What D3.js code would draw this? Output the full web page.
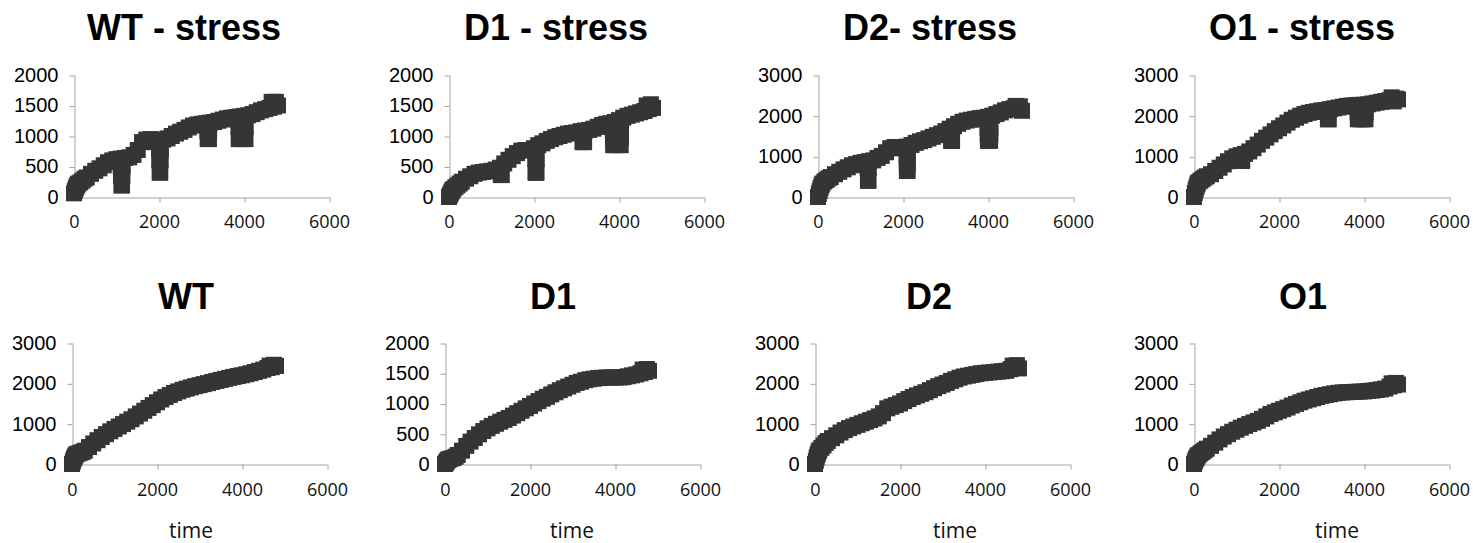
<!DOCTYPE html>
<html><head><meta charset="utf-8">
<script src="https://cdn.jsdelivr.net/npm/d3@7/dist/d3.min.js"></script>
<style>body{margin:0;background:#fff}svg{display:block}</style>
</head><body><svg id="chart" width="1473" height="543"></svg>
<script>
// ---------- data ----------
const xTickValues = [0, 2000, 4000, 6000];
const yTicks2000 = [0, 500, 1000, 1500, 2000];
const yTicks3000 = [0, 1000, 2000, 3000];
const panelTitles = ["WT - stress", "D1 - stress", "D2- stress", "O1 - stress", "WT", "D1", "D2", "O1"];
const xAxisLabel = "time";

// shared sampling times
const baseTime = [0,20,40,60,80,100,150,200,250,300,400,500,600,700,800,900,1000,1100,1200,1300,
  1400,1500,1600,1700,1800,1900,2000,2100,2200,2300,2400,2500,2600,2700,2800,2900,3000,3100,3200,
  3300,3400,3500,3600,3700,3800,3900,4000,4100,4200,4300,4400,4500,4600,4650,4700,4750,4800];

// stress panels (top row): main trace + stress-pulse dips
const wtStressValue = [60,100,140,170,200,220,240,270,300,320,380,430,470,520,570,600,620,630,640,650,
  690,770,900,940,950,900,920,940,960,1000,1040,1070,1100,1140,1170,1190,1200,1210,1220,
  1230,1250,1270,1290,1300,1310,1320,1330,1340,1360,1390,1420,1440,1460,1560,1480,1560,1500];
const wtStressDipTime  = [1100,1105,1115,1130,1140,1145, 2000,2005,2015,2030,2040,2045,
  3140,3145,3160,3175,3180, 3870,3875,3900,3950,4000,4035,4040];
const wtStressDipValue = [510,350,190,190,350,510, 780,600,400,400,600,780,
  1080,950,950,950,1080, 1150,950,950,950,950,950,1150];

const d1StressValue = [0,30,60,90,110,130,160,190,220,250,300,340,380,400,410,420,430,450,480,550,
  610,670,720,760,770,770,800,850,880,920,950,980,1000,1020,1040,1050,1060,1080,1090,
  1100,1120,1150,1180,1200,1210,1230,1260,1300,1330,1350,1370,1390,1410,1500,1440,1520,1460];
const d1StressDipTime  = [1220,1230,1240, 2030,2035,2045,2060,2065, 3140,3160,3180,
  3855,3858,3862,3950,4040,4045,4048];
const d1StressDipValue = [360,360,360, 620,400,400,400,620, 900,900,900,
  1100,970,850,850,850,970,1100];

const d2StressValue = [0,80,150,220,280,330,380,420,460,490,560,620,680,730,780,810,840,860,880,900,
  960,1010,1100,1200,1230,1200,1220,1240,1280,1330,1370,1400,1440,1480,1520,1560,1620,1680,1740,
  1800,1850,1880,1900,1920,1940,1950,1970,2000,2040,2080,2130,2160,2180,2240,2160,2230,2120];
const d2StressDipTime  = [1170,1175,1190,1195, 2085,2088,2092,2100,2108,2112,2115,
  3135,3140,3150,3155, 3990,3993,3997,4024,4050,4055,4058];
const d2StressDipValue = [700,400,400,700, 1000,820,644,644,644,820,1000,
  1382,1382,1382,1382, 1700,1540,1382,1382,1382,1540,1700];

const o1StressValue = [0,100,180,250,310,360,400,440,480,510,560,640,720,800,880,950,1000,1030,1060,1120,
  1200,1290,1380,1460,1540,1620,1690,1760,1830,1900,1950,2000,2040,2070,2090,2110,2130,2140,2160,
  2180,2200,2220,2240,2250,2260,2265,2270,2280,2300,2320,2340,2360,2380,2450,2350,2420,2400];
const o1StressDipTime  = [1110,1122,1135, 3150,3160,3170, 3850,3855,3900,3950,4000,4035,4040];
const o1StressDipValue = [890,890,890, 1913,1913,1913, 2080,1913,1913,1913,1913,1913,2080];

// control panels (bottom row)
const wtValue = [0,60,120,170,210,240,260,280,300,330,420,510,590,670,740,810,870,930,990,1050,
  1110,1180,1250,1320,1390,1460,1530,1600,1660,1710,1760,1800,1840,1870,1900,1930,1955,1980,2005,
  2035,2060,2085,2110,2135,2160,2180,2200,2225,2250,2280,2310,2340,2380,2440,2400,2460,2430];
const d1Value = [0,20,40,60,70,80,90,100,120,150,220,300,370,430,490,545,590,630,665,700,
  730,760,800,840,880,920,960,1000,1040,1080,1110,1150,1185,1220,1250,1280,1310,1340,1360,
  1385,1400,1410,1420,1425,1430,1430,1430,1430,1435,1450,1465,1480,1500,1560,1520,1570,1540];
const d2Value = [0,80,160,230,290,340,400,460,520,570,640,710,780,840,890,930,970,1010,1050,1090,
  1130,1180,1260,1380,1420,1460,1500,1560,1610,1660,1700,1740,1780,1830,1880,1930,1970,2010,2060,
  2100,2140,2170,2190,2210,2230,2250,2260,2270,2280,2290,2300,2310,2350,2440,2380,2450,2370];
const o1Value = [0,60,110,150,190,220,260,300,340,380,450,530,610,680,740,800,850,900,945,990,
  1030,1070,1120,1180,1240,1280,1320,1360,1400,1450,1490,1530,1570,1600,1630,1660,1690,1710,1730,
  1750,1765,1775,1780,1785,1790,1795,1800,1810,1820,1835,1850,1870,1920,2000,1950,2010,1970];

// ---------- layout ----------
const rows = [
  {top: 75, bottom: 197, titleY: 40, tickPad: 13},
  {top: 343, bottom: 464, titleY: 309, tickPad: 14}
];
const plotWidth = 255;
const panels = [
  {value: wtStressValue, dipTime: wtStressDipTime, dipValue: wtStressDipValue, yMax: 2000, yTicks: yTicks2000, row: 0, left: 74,   titleX: 184},
  {value: d1StressValue, dipTime: d1StressDipTime, dipValue: d1StressDipValue, yMax: 2000, yTicks: yTicks2000, row: 0, left: 449,  titleX: 556},
  {value: d2StressValue, dipTime: d2StressDipTime, dipValue: d2StressDipValue, yMax: 3000, yTicks: yTicks3000, row: 0, left: 818,  titleX: 930},
  {value: o1StressValue, dipTime: o1StressDipTime, dipValue: o1StressDipValue, yMax: 3000, yTicks: yTicks3000, row: 0, left: 1194, titleX: 1302},
  {value: wtValue, yMax: 3000, yTicks: yTicks3000, row: 1, left: 72,   titleX: 186, labelX: 191},
  {value: d1Value, yMax: 2000, yTicks: yTicks2000, row: 1, left: 445,  titleX: 553, labelX: 572},
  {value: d2Value, yMax: 3000, yTicks: yTicks3000, row: 1, left: 815,  titleX: 929, labelX: 955},
  {value: o1Value, yMax: 3000, yTicks: yTicks3000, row: 1, left: 1194, titleX: 1303, labelX: 1337}
];
const markerSize = 16;
const markerColor = "#353535";
const axisColor = "#a3a3a3";

const svg = d3.select("#chart");

panels.forEach((p, i) => {
  const r = rows[p.row];
  const x = d3.scaleLinear().domain([0, 6000]).range([p.left, p.left + plotWidth]);
  const y = d3.scaleLinear().domain([0, p.yMax]).range([r.bottom, r.top]);
  const g = svg.append("g");

  g.append("text")
    .attr("x", p.titleX).attr("y", r.titleY)
    .attr("text-anchor", "middle")
    .style("font-family", "'Liberation Sans', Arial, sans-serif")
    .style("font-weight", "bold").style("font-size", "36px").style("fill", "#000")
    .text(panelTitles[i]);

  const xa = g.append("g").attr("transform", `translate(0,${r.bottom + 0.5})`)
    .call(d3.axisBottom(x).tickValues(xTickValues).tickSize(5).tickSizeOuter(0)
      .tickPadding(r.tickPad).tickFormat(d3.format("d")));
  xa.select(".domain").attr("stroke", axisColor);
  xa.selectAll(".tick line").attr("stroke", axisColor).attr("transform", "translate(0.5,0)")
    .attr("opacity", d => d === 0 ? 0 : 1);
  xa.selectAll(".tick text")
    .style("font-family", "'Open Sans', sans-serif").style("font-size", "18px").style("fill", "#111");

  const ya = g.append("g").attr("transform", `translate(${p.left + 0.5},0)`)
    .call(d3.axisLeft(y).tickValues(p.yTicks).tickSize(5).tickSizeOuter(0).tickPadding(11)
      .tickFormat(d3.format("d")));
  ya.select(".domain").attr("stroke", axisColor);
  ya.selectAll(".tick line").attr("stroke", axisColor).attr("transform", "translate(0,0.5)");
  ya.selectAll(".tick text")
    .style("font-family", "'Liberation Sans', Arial, sans-serif").style("font-size", "20px").style("fill", "#000");

  const pts = baseTime.map((t, k) => ({t, v: p.value[k]}));
  if (p.dipTime) p.dipTime.forEach((t, k) => pts.push({t, v: p.dipValue[k]}));
  g.append("g").selectAll("rect").data(pts).join("rect")
    .attr("x", d => x(d.t) - markerSize / 2)
    .attr("y", d => y(d.v) - markerSize / 2)
    .attr("width", markerSize).attr("height", markerSize)
    .attr("fill", markerColor);

  if (p.labelX !== undefined) {
    g.append("text")
      .attr("x", p.labelX).attr("y", 538)
      .attr("text-anchor", "middle")
      .style("font-family", "'Open Sans', sans-serif").style("font-size", "21px").style("fill", "#111")
      .text(xAxisLabel);
  }
});
</script>
</body></html>
